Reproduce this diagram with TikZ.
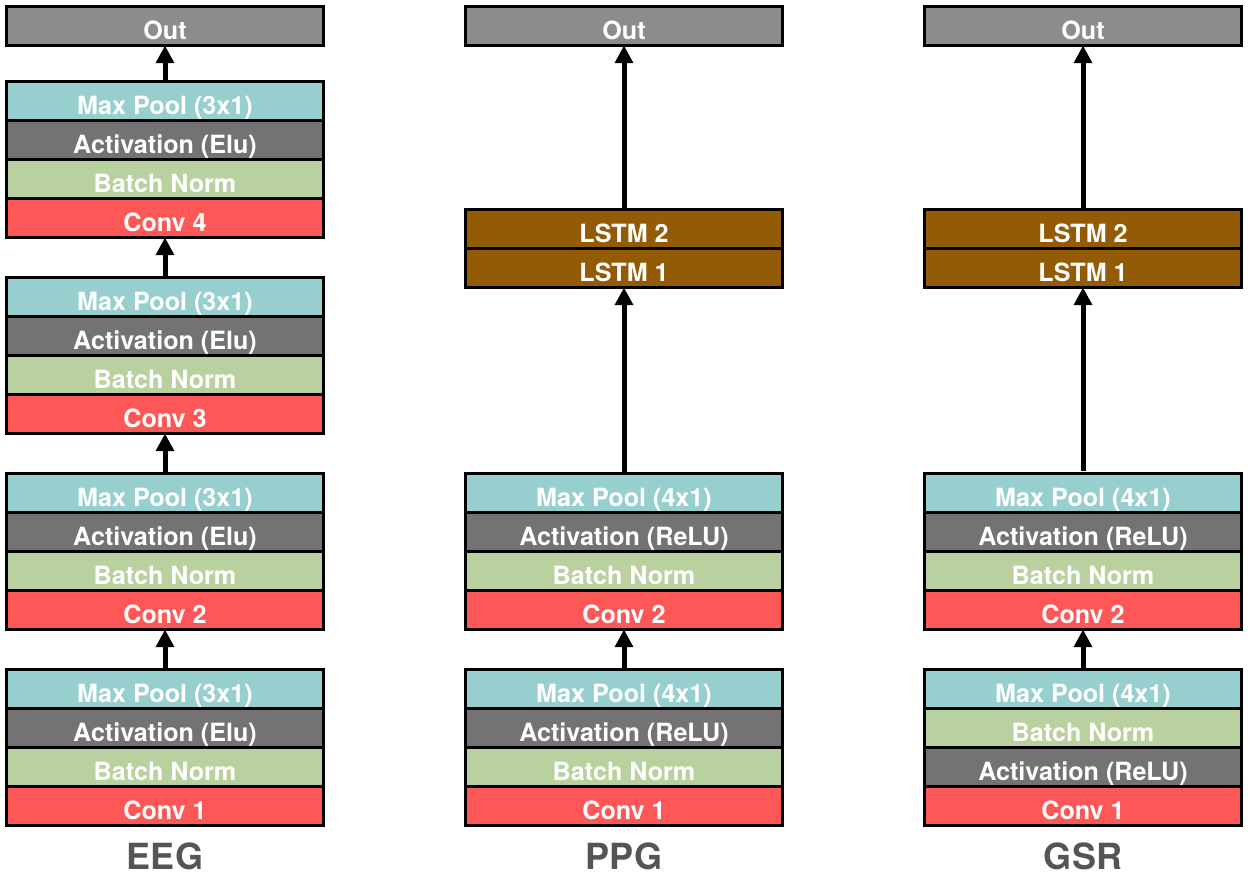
\documentclass[tikz,border=0pt]{standalone}
\usepackage{fontspec}
\setmainfont{TeX Gyre Heros}
\usetikzlibrary{arrows.meta}
\usetikzlibrary{positioning}

\definecolor{outgray}{HTML}{8C8C8C}
\definecolor{poolcol}{HTML}{96CFCE}
\definecolor{actcol}{HTML}{737373}
\definecolor{normcol}{HTML}{B9D19E}
\definecolor{convcol}{HTML}{FE5757}
\definecolor{lstmcol}{HTML}{935B05}
\definecolor{titlegray}{HTML}{555555}

\begin{document}
\begin{tikzpicture}[x=0.02cm, y=-0.02cm,
    layer/.style={draw=black, line width=0.06cm, minimum width=6.36cm, minimum height=0.78cm,
      outer sep=0pt, inner sep=0pt, text=white, text height=15pt, text depth=0pt,
      font=\fontsize{14.3}{16}\selectfont\bfseries},
    flow/.style={-{Triangle[width=10pt,length=10pt]}, line width=0.1cm},
    title/.style={text=titlegray, font=\fontsize{20.5}{24}\selectfont\bfseries}]
      \useasboundingbox (0,0) rectangle (1250,876);

      % EEG
      \foreach \i/\y in {1/806,2/610,3/414,4/218} {
        \node[layer, fill=convcol] (eeg-conv\i) at (165,\y) {Conv \i};
        \node[layer, fill=normcol, above=0pt of eeg-conv\i] (eeg-bn\i) {Batch Norm};
        \node[layer, fill=actcol, above=0pt of eeg-bn\i] (eeg-act\i) {Activation (Elu)};
        \node[layer, fill=poolcol, above=0pt of eeg-act\i] (eeg-pool\i) {Max Pool (3x1)};
      }
      \node[layer, fill=outgray] (eeg-out) at (165,26) {Out};
      \foreach \i/\j in {1/2,2/3,3/4}
        \draw[flow] (eeg-pool\i.north) -- (eeg-conv\j.south);
      \draw[flow] (eeg-pool4.north) -- (eeg-out.south);
      \node[title] (eeg-title) at (165,856) {EEG};

      % PPG
      \foreach \i/\y in {1/806,2/610} {
        \node[layer, fill=convcol] (ppg-conv\i) at (624,\y) {Conv \i};
        \node[layer, fill=normcol, above=0pt of ppg-conv\i] (ppg-bn\i) {Batch Norm};
        \node[layer, fill=actcol, above=0pt of ppg-bn\i] (ppg-act\i) {Activation (ReLU)};
        \node[layer, fill=poolcol, above=0pt of ppg-act\i] (ppg-pool\i) {Max Pool (4x1)};
      }
      \node[layer, fill=lstmcol] (ppg-lstm1) at (624,268) {LSTM 1};
      \node[layer, fill=lstmcol, above=0pt of ppg-lstm1] (ppg-lstm2) {LSTM 2};
      \node[layer, fill=outgray] (ppg-out) at (624,26) {Out};
      \draw[flow] (ppg-pool1.north) -- (ppg-conv2.south);
      \draw[flow] (ppg-pool2.north) -- (ppg-lstm1.south);
      \draw[flow] (ppg-lstm2.north) -- (ppg-out.south);
      \node[title] (ppg-title) at (624,856) {PPG};

      % GSR
      \node[layer, fill=convcol] (gsr-conv1) at (1083,806) {Conv 1};
      \node[layer, fill=actcol, above=0pt of gsr-conv1] (gsr-act1) {Activation (ReLU)};
      \node[layer, fill=normcol, above=0pt of gsr-act1] (gsr-bn1) {Batch Norm};
      \node[layer, fill=poolcol, above=0pt of gsr-bn1] (gsr-pool1) {Max Pool (4x1)};
      \node[layer, fill=convcol] (gsr-conv2) at (1083,610) {Conv 2};
      \node[layer, fill=normcol, above=0pt of gsr-conv2] (gsr-bn2) {Batch Norm};
      \node[layer, fill=actcol, above=0pt of gsr-bn2] (gsr-act2) {Activation (ReLU)};
      \node[layer, fill=poolcol, above=0pt of gsr-act2] (gsr-pool2) {Max Pool (4x1)};
      \node[layer, fill=lstmcol] (gsr-lstm1) at (1083,268) {LSTM 1};
      \node[layer, fill=lstmcol, above=0pt of gsr-lstm1] (gsr-lstm2) {LSTM 2};
      \node[layer, fill=outgray] (gsr-out) at (1083,26) {Out};
      \draw[flow] (gsr-pool1.north) -- (gsr-conv2.south);
      \draw[flow, shorten <=0.06cm] (gsr-pool2.north) -- (gsr-lstm1.south);
      \draw[flow] (gsr-lstm2.north) -- (gsr-out.south);
      \node[title] (gsr-title) at (1083,856) {GSR};

    \end{tikzpicture}
\end{document}
